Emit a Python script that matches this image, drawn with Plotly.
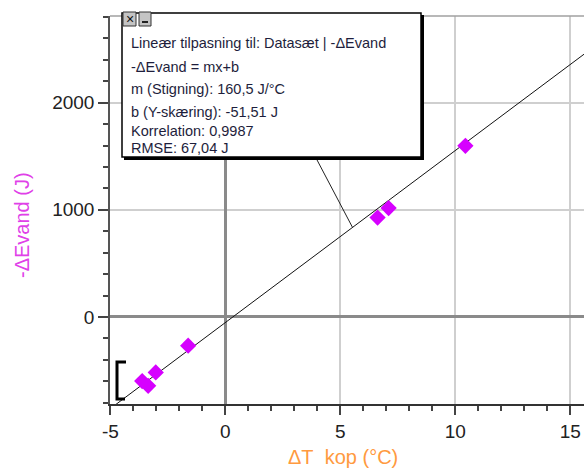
import plotly.graph_objects as go

# ---- data ----
dT_kop = [-3.62, -3.36, -3.03, -1.62, 6.62, 7.10, 10.44]
dE_vand = [-598, -642, -517, -268, 928, 1016, 1598]

slope_m = 160.5
intercept_b = -51.51
fit_x_ends = [-5.5, 16.5]

box_lines = [
    "Lineær tilpasning til: Datasæt | -ΔEvand",
    "-ΔEvand = mx+b",
    "m (Stigning): 160,5 J/°C",
    "b (Y-skæring): -51,51 J",
    "Korrelation: 0,9987",
    "RMSE: 67,04 J",
]
x_ticks = [-5, 0, 5, 10, 15]
x_tick_labels = ["-5", "0", "5", "10", "15"]
y_ticks = [0, 1000, 2000]
y_tick_labels = ["0", "1000", "2000"]

# ---- layout geometry (pixels) ----
W, H = 584, 468
L, R, T, B = 110, 584, 16, 404
x_range = [-5.02, 15.6]
y_range = [-812, 2809]


def px(p):
    return (p - L) / (R - L)


def py(p):
    return (B - p) / (B - T)


def dx_from_px(p):
    return x_range[0] + (p - L) / (R - L) * (x_range[1] - x_range[0])


def dy_from_py(p):
    return y_range[0] + (B - p) / (B - T) * (y_range[1] - y_range[0])


FONT = "Liberation Sans, Arial, sans-serif"
MARK = "#D600FF"

fig = go.Figure()

fit_y = [slope_m * x + intercept_b for x in fit_x_ends]
fig.add_trace(go.Scatter(x=fit_x_ends, y=fit_y, mode="lines",
                         line=dict(color="#111111", width=1),
                         hoverinfo="skip", showlegend=False))
fig.add_trace(go.Scatter(x=dT_kop, y=dE_vand, mode="markers",
                         marker=dict(symbol="diamond", size=12.5, color=MARK,
                                     line=dict(width=0)),
                         cliponaxis=False, showlegend=False))

axis_common = dict(
    showline=True, linewidth=1.5,
    ticks="outside", tickcolor="#444444", tickwidth=1.5,
    showgrid=True, gridcolor="#cfcfcf", gridwidth=1.5,
    zeroline=True, zerolinecolor="#8a8a8a", zerolinewidth=2.5,
    tickfont=dict(family=FONT, size=19, color="#222222"),
    fixedrange=True,
)

fig.update_xaxes(range=x_range, tickvals=x_ticks, ticktext=x_tick_labels,
                 ticklen=9, linecolor="#333333",
                 minor=dict(dtick=1, ticklen=5, tickcolor="#444444",
                            tickwidth=1.5, showgrid=False, ticks="outside"),
                 **axis_common)
fig.update_yaxes(range=y_range, tickvals=y_ticks, ticktext=y_tick_labels,
                 ticklen=10, linecolor="#555555",
                 minor=dict(dtick=200, ticklen=5, tickcolor="#444444",
                            tickwidth=1.5, showgrid=False, ticks="outside"),
                 **axis_common)

shapes = []
# top border of plot area
shapes.append(dict(type="line", xref="paper", yref="paper",
                   x0=0, x1=1, y0=1, y1=1,
                   line=dict(color="#a0a0a0", width=1.5)))
# leader line from box to fit line
lead_x_end = 5.53
shapes.append(dict(type="line", xref="x", yref="y",
                   x0=dx_from_px(316), y0=dy_from_py(158),
                   x1=lead_x_end, y1=slope_m * lead_x_end + intercept_b,
                   line=dict(color="#222222", width=1)))
# box shadow + box
shapes.append(dict(type="rect", xref="paper", yref="paper",
                   x0=px(124), x1=px(424), y0=py(160), y1=py(15),
                   fillcolor="#000000", line=dict(width=0)))
shapes.append(dict(type="rect", xref="paper", yref="paper",
                   x0=px(122), x1=px(421), y0=py(157), y1=py(13),
                   fillcolor="white", line=dict(color="#000000", width=1.5)))
# little window buttons
shapes.append(dict(type="rect", xref="paper", yref="paper",
                   x0=px(123), x1=px(136), y0=py(26), y1=py(12),
                   fillcolor="#c4c4c4", line=dict(color="#333333", width=1)))
shapes.append(dict(type="rect", xref="paper", yref="paper",
                   x0=px(139), x1=px(151), y0=py(26), y1=py(12),
                   fillcolor="#c4c4c4", line=dict(color="#333333", width=1)))
shapes.append(dict(type="line", xref="paper", yref="paper",
                   x0=px(142), x1=px(148), y0=py(22), y1=py(22),
                   line=dict(color="#222222", width=2)))
# bracket at lower left
shapes.append(dict(type="path", xref="paper", yref="paper",
                   path=f"M {px(126)} {py(362)} L {px(117)} {py(362)} "
                        f"L {px(117)} {py(399)} L {px(125)} {py(399)}",
                   line=dict(color="#000000", width=3)))

annotations = []
line_y = [43, 67, 89, 112, 131, 148]
for txt, yy in zip(box_lines, line_y):
    annotations.append(dict(xref="paper", yref="paper", x=px(129), y=py(yy),
                            xanchor="left", yanchor="middle", showarrow=False,
                            text=txt,
                            font=dict(family=FONT, size=14.5, color="#1e1e3c")))
annotations.append(dict(xref="paper", yref="paper", x=px(129.5), y=py(19),
                        xanchor="center", yanchor="middle", showarrow=False,
                        text="×", font=dict(family=FONT, size=14, color="#111111")))
# axis titles
annotations.append(dict(xref="paper", yref="paper", x=px(343), y=py(457),
                        xanchor="center", yanchor="middle", showarrow=False,
                        text="ΔT\u00a0 kop (°C)",
                        font=dict(family=FONT, size=20, color="#FF9A40")))
annotations.append(dict(xref="paper", yref="paper", x=px(22), y=py(225),
                        xanchor="center", yanchor="middle", showarrow=False,
                        textangle=-90, text="-ΔEvand (J)",
                        font=dict(family=FONT, size=20, color="#E040E8")))

fig.update_layout(
    width=W, height=H, autosize=False,
    margin=dict(l=L, r=W - R, t=T, b=H - B, pad=0),
    paper_bgcolor="white", plot_bgcolor="white",
    shapes=shapes, annotations=annotations,
    showlegend=False,
)

fig.write_html("out.html", config={"displayModeBar": False},
               post_script="document.body.style.margin='0';"
                           "document.body.style.overflow='hidden';")
